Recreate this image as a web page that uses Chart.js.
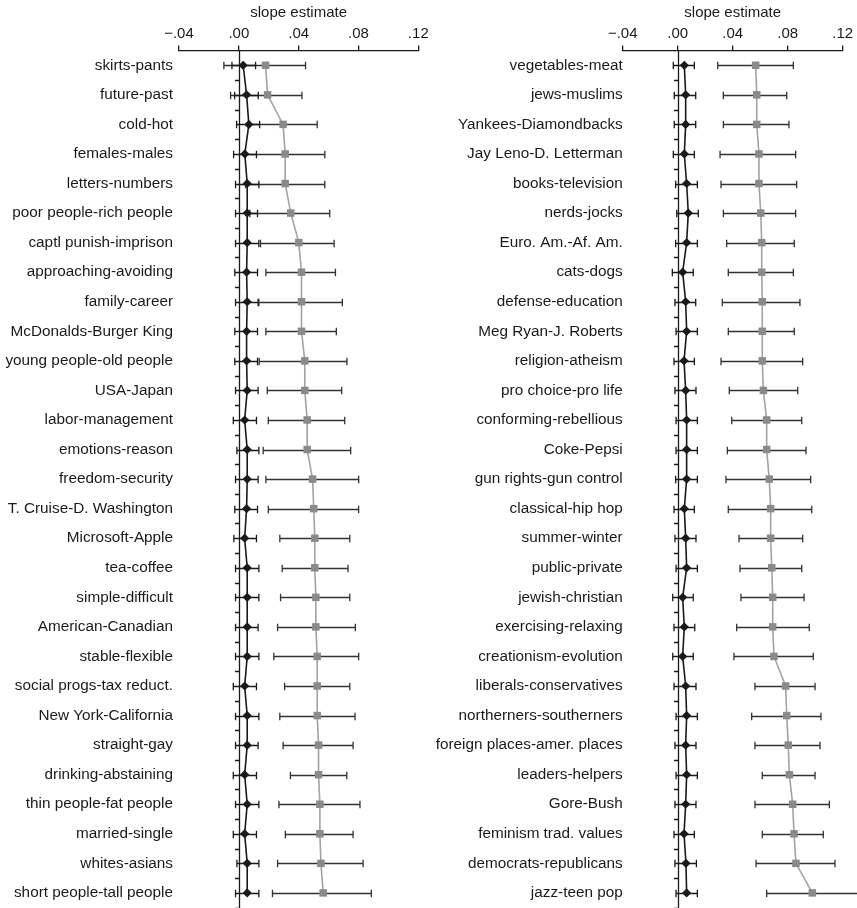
<!DOCTYPE html>
<html>
<head>
<meta charset="utf-8">
<script src="https://cdn.jsdelivr.net/npm/chart.js@4.4.0/dist/chart.umd.min.js"></script>
<style>
  html, body { margin: 0; padding: 0; background: #fff; }
  #wrap { position: relative; width: 857px; height: 908px; overflow: hidden; }
  .panel { position: absolute; top: 0; }
  #pl { left: 0; }
  #pr { left: 428px; }
</style>
</head>
<body>
<div id="wrap">
  <div class="panel" id="pl"><canvas id="cl" width="428" height="913"></canvas></div>
  <div class="panel" id="pr"><canvas id="cr" width="429" height="913"></canvas></div>
</div>
<script>
// ---- left panel ----
const labelsL = ['skirts-pants', 'future-past', 'cold-hot', 'females-males', 'letters-numbers',
  'poor people-rich people', 'captl punish-imprison', 'approaching-avoiding', 'family-career',
  'McDonalds-Burger King', 'young people-old people', 'USA-Japan', 'labor-management',
  'emotions-reason', 'freedom-security', 'T. Cruise-D. Washington', 'Microsoft-Apple',
  'tea-coffee', 'simple-difficult', 'American-Canadian', 'stable-flexible',
  'social progs-tax reduct.', 'New York-California', 'straight-gay', 'drinking-abstaining',
  'thin people-fat people', 'married-single', 'whites-asians', 'short people-tall people'];
const blackL = [0.0029, 0.0052, 0.0067, 0.0040, 0.0056, 0.0056, 0.0056, 0.0052, 0.0056, 0.0052,
  0.0052, 0.0056, 0.0039, 0.0056, 0.0056, 0.0052, 0.0039, 0.0056, 0.0056, 0.0056, 0.0056, 0.0039,
  0.0056, 0.0056, 0.0039, 0.0056, 0.0039, 0.0056, 0.0056];
const blackLoL = [-0.0046, -0.0028, -0.0015, -0.0035, -0.0022, -0.0022, -0.0022, -0.0027, -0.0022,
  -0.0027, -0.0027, -0.0022, -0.0037, -0.0013, -0.0022, -0.0027, -0.0033, -0.0022, -0.0022, -0.0022,
  -0.0022, -0.0037, -0.0022, -0.0022, -0.0037, -0.0022, -0.0037, -0.0013, -0.0022];
const blackHiL = [0.0112, 0.0130, 0.0139, 0.0118, 0.0134, 0.0125, 0.0134, 0.0125, 0.0129, 0.0125,
  0.0125, 0.0129, 0.0118, 0.0134, 0.0129, 0.0125, 0.0118, 0.0134, 0.0134, 0.0129, 0.0134, 0.0118,
  0.0134, 0.0129, 0.0118, 0.0134, 0.0118, 0.0134, 0.0134];
const grayL = [0.0179, 0.0192, 0.0296, 0.0310, 0.0310, 0.0347, 0.0401, 0.0419, 0.0419, 0.0419,
  0.0441, 0.0441, 0.0457, 0.0457, 0.0493, 0.0501, 0.0508, 0.0508, 0.0515, 0.0515, 0.0524, 0.0524,
  0.0524, 0.0533, 0.0533, 0.0542, 0.0542, 0.0549, 0.0564];
const grayLoL = [-0.0100, -0.0055, 0.0068, 0.0045, 0.0045, 0.0074, 0.0145, 0.0181, 0.0134, 0.0181,
  0.0136, 0.0190, 0.0197, 0.0163, 0.0181, 0.0197, 0.0274, 0.0290, 0.0279, 0.0259, 0.0234, 0.0306,
  0.0274, 0.0296, 0.0345, 0.0268, 0.0311, 0.0259, 0.0225];
const grayHiL = [0.0446, 0.0422, 0.0524, 0.0575, 0.0575, 0.0608, 0.0637, 0.0646, 0.0692, 0.0652,
  0.0723, 0.0688, 0.0708, 0.0748, 0.0801, 0.0801, 0.0742, 0.0730, 0.0742, 0.0779, 0.0801, 0.0742,
  0.0777, 0.0764, 0.0722, 0.0810, 0.0764, 0.0831, 0.0886];

// ---- right panel ----
const labelsR = ['vegetables-meat', 'jews-muslims', 'Yankees-Diamondbacks', 'Jay Leno-D. Letterman',
  'books-television', 'nerds-jocks', 'Euro. Am.-Af. Am.', 'cats-dogs', 'defense-education',
  'Meg Ryan-J. Roberts', 'religion-atheism', 'pro choice-pro life', 'conforming-rebellious',
  'Coke-Pepsi', 'gun rights-gun control', 'classical-hip hop', 'summer-winter', 'public-private',
  'jewish-christian', 'exercising-relaxing', 'creationism-evolution', 'liberals-conservatives',
  'northerners-southerners', 'foreign places-amer. places', 'leaders-helpers', 'Gore-Bush',
  'feminism trad. values', 'democrats-republicans', 'jazz-teen pop'];
const blackR = [0.0048, 0.0058, 0.0058, 0.0048, 0.0065, 0.0077, 0.0065, 0.0036, 0.0058, 0.0065,
  0.0046, 0.0058, 0.0065, 0.0065, 0.0065, 0.0048, 0.0058, 0.0065, 0.0036, 0.0048, 0.0036, 0.0058,
  0.0065, 0.0058, 0.0065, 0.0058, 0.0046, 0.0060, 0.0065];
const blackLoR = [-0.0032, -0.0025, -0.0025, -0.0032, -0.0015, -0.0007, -0.0015, -0.0039, -0.0020,
  -0.0012, -0.0027, -0.0020, -0.0012, -0.0012, -0.0015, -0.0027, -0.0020, -0.0012, -0.0036, -0.0027,
  -0.0036, -0.0027, -0.0012, -0.0020, -0.0012, -0.0020, -0.0027, -0.0020, -0.0012];
const blackHiR = [0.0121, 0.0131, 0.0131, 0.0121, 0.0143, 0.0150, 0.0143, 0.0113, 0.0131, 0.0143,
  0.0121, 0.0133, 0.0143, 0.0143, 0.0143, 0.0121, 0.0133, 0.0143, 0.0113, 0.0124, 0.0113, 0.0133,
  0.0143, 0.0133, 0.0143, 0.0133, 0.0121, 0.0136, 0.0143];
const grayR = [0.0567, 0.0575, 0.0575, 0.0591, 0.0591, 0.0604, 0.0611, 0.0611, 0.0615, 0.0615,
  0.0615, 0.0623, 0.0647, 0.0647, 0.0666, 0.0676, 0.0676, 0.0684, 0.0691, 0.0691, 0.0700, 0.0785,
  0.0793, 0.0804, 0.0812, 0.0836, 0.0846, 0.0860, 0.0979];
const grayLoR = [0.0291, 0.0332, 0.0332, 0.0308, 0.0315, 0.0332, 0.0356, 0.0368, 0.0324, 0.0368,
  0.0315, 0.0375, 0.0393, 0.0361, 0.0351, 0.0368, 0.0446, 0.0453, 0.0460, 0.0429, 0.0409, 0.0562,
  0.0538, 0.0562, 0.0615, 0.0562, 0.0615, 0.0570, 0.0647];
const grayHiR = [0.0841, 0.0793, 0.0809, 0.0858, 0.0865, 0.0858, 0.0848, 0.0841, 0.0889, 0.0848,
  0.0909, 0.0873, 0.0902, 0.0933, 0.0967, 0.0975, 0.0909, 0.0902, 0.0919, 0.0957, 0.0986, 0.0999,
  0.1042, 0.1035, 0.0999, 0.1103, 0.1059, 0.1144, 0.1311];

// shared axis settings
const xMin = -0.04, xMax = 0.12, xStep = 0.04;
const axisTitle = 'slope estimate';
const FONT = 'Liberation Sans, Arial, Helvetica, sans-serif';
const INK = '#1a1a1a';

function fmtTick(v) {
  const r = Math.round(v * 100) / 100;
  const s = Math.abs(r).toFixed(2).replace(/^0/, '');
  return r < 0 ? '\u2212' + s : s;
}

// error bars, zero reference line and its category ticks
const errBarPlugin = {
  id: 'errbars',
  beforeDatasetsDraw(chart, args, opts) {
    const ctx = chart.ctx;
    const xs = chart.scales.x, ys = chart.scales.y;
    const area = chart.chartArea;
    const n = ys.getLabels().length;
    const step = n > 1 ? ys.getPixelForValue(1) - ys.getPixelForValue(0) : 0;
    ctx.save();
    // vertical line at zero
    const x0 = Math.round(xs.getPixelForValue(0)) + 0.5;
    ctx.strokeStyle = INK;
    ctx.lineWidth = 1.3;
    ctx.beginPath();
    ctx.moveTo(x0, area.top);
    ctx.lineTo(x0, area.bottom);
    for (let i = 0; i < n; i++) {
      const yb = Math.round(ys.getPixelForValue(i) + step / 2) + 0.5;
      ctx.moveTo(x0 - 4.5, yb);
      ctx.lineTo(x0, yb);
    }
    ctx.stroke();
    // interval bars with caps
    for (const set of opts.sets || []) {
      ctx.strokeStyle = set.color;
      ctx.lineWidth = 1.3;
      ctx.beginPath();
      for (let i = 0; i < n; i++) {
        const y = Math.round(ys.getPixelForValue(i)) + 0.5;
        const a = xs.getPixelForValue(set.lo[i]);
        const b = xs.getPixelForValue(set.hi[i]);
        ctx.moveTo(a, y); ctx.lineTo(b, y);
        ctx.moveTo(a, y - 3.8); ctx.lineTo(a, y + 3.8);
        ctx.moveTo(b, y - 3.8); ctx.lineTo(b, y + 3.8);
      }
      ctx.stroke();
    }
    ctx.restore();
  }
};

function makeChart(canvasId, labels, black, blo, bhi, gray, glo, ghi, yWidth, padRight, labelPad) {
  return new Chart(document.getElementById(canvasId), {
    type: 'line',
    data: {
      labels: labels,
      datasets: [
        {
          data: black,
          borderColor: INK, borderWidth: 1.6,
          pointStyle: 'rectRot', pointRadius: 4.6,
          pointBackgroundColor: INK, pointBorderColor: INK, pointBorderWidth: 0,
          tension: 0, clip: false
        },
        {
          data: gray,
          borderColor: '#a3a3a3', borderWidth: 1.6,
          pointStyle: 'rect', pointRadius: 5.3,
          pointBackgroundColor: '#8a8a8a', pointBorderColor: '#8a8a8a', pointBorderWidth: 0,
          tension: 0, clip: false
        }
      ]
    },
    options: {
      indexAxis: 'y',
      responsive: false,
      animation: false,
      events: [],
      layout: { padding: { left: 0, right: padRight, top: 0, bottom: 0 } },
      plugins: {
        legend: { display: false },
        tooltip: { enabled: false },
        errbars: {
          sets: [
            { lo: glo, hi: ghi, color: '#333333' },
            { lo: blo, hi: bhi, color: INK }
          ]
        }
      },
      scales: {
        x: {
          type: 'linear', position: 'top',
          min: xMin, max: xMax,
          ticks: {
            stepSize: xStep, callback: fmtTick, maxRotation: 0, padding: 3,
            color: INK, font: { family: FONT, size: 15 }
          },
          grid: { display: true, drawOnChartArea: false, drawTicks: true, tickLength: 5, color: INK, lineWidth: 1.3 },
          border: { display: true, color: INK, width: 1.3 },
          title: {
            display: true, text: axisTitle, color: INK,
            font: { family: FONT, size: 15 }, padding: { top: 4, bottom: 0 }
          },
          afterFit(s) {
            s.height = 50.5;
            s.paddingLeft = 0; s.paddingRight = 0;
          }
        },
        y: {
          type: 'category',
          offset: true,
          grid: { display: false, drawTicks: false },
          border: { display: false },
          ticks: {
            autoSkip: false, padding: labelPad, color: INK,
            font: { family: FONT, size: 15.3 }
          },
          afterFit(s) {
            s.width = yWidth;
            s.paddingTop = 0; s.paddingBottom = 0;
          }
        }
      }
    },
    plugins: [errBarPlugin]
  });
}

makeChart('cl', labelsL, blackL, blackLoL, blackHiL, grayL, grayLoL, grayHiL, 179, 9.7, 6);
makeChart('cr', labelsR, blackR, blackLoR, blackHiR, grayR, grayLoR, grayHiR, 194.7, 14.3, 0);
</script>
</body>
</html>
